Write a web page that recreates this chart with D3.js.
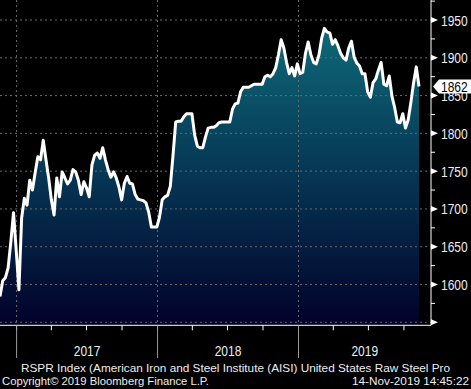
<!DOCTYPE html>
<html lang="en">
<head>
<meta charset="utf-8">
<title>RSPR Index</title>
<script src="https://d3js.org/d3.v7.min.js"></script>
<style>
    body { margin: 0; background: #000; }
    svg { display: block; background: #000; }
    .lbl { font-family: "Liberation Sans", Arial, sans-serif; }
</style>
</head>
<body>
<svg width="471" height="389"></svg>
<script>
// weekly readings, first week ending 2016-11-19
const firstWeek = "2016-11-19";
const steelValues = [
    1584, 1605, 1609, 1622, 1656, 1695, 1645, 1593, 1688, 1714,
    1705, 1738, 1725, 1748, 1769, 1765, 1791, 1765, 1741, 1712,
    1692, 1741, 1716, 1749, 1741, 1733, 1738, 1752, 1749, 1738,
    1719, 1736, 1728, 1716, 1758, 1771, 1774, 1767, 1781, 1765,
    1752, 1742, 1749, 1741, 1729, 1712, 1734, 1743, 1734, 1733,
    1719, 1713, 1712, 1711, 1708, 1696, 1676, 1676, 1676, 1689,
    1712, 1716, 1718, 1730, 1771, 1815, 1816, 1816, 1822, 1826,
    1826, 1826, 1798, 1783, 1781, 1781, 1795, 1807, 1808, 1808,
    1810, 1814, 1815, 1815, 1815, 1815, 1832, 1839, 1840, 1855,
    1861, 1861, 1861, 1863, 1865, 1865, 1865, 1865, 1875, 1877,
    1875, 1879, 1887, 1904, 1924, 1913, 1894, 1879, 1887, 1876,
    1892, 1879, 1881, 1906, 1921, 1904, 1894, 1892, 1904, 1926,
    1939, 1934, 1933, 1918, 1924, 1916, 1906, 1900, 1897, 1913,
    1922, 1901, 1893, 1889, 1879, 1879, 1855, 1848, 1867, 1872,
    1884, 1894, 1865, 1863, 1876, 1849, 1834, 1815, 1814, 1826,
    1807, 1818, 1841, 1867, 1888, 1862
];
const yearLabels = ["2017", "2018", "2019"];
const yTicks = [1550, 1600, 1650, 1700, 1750, 1800, 1850, 1900, 1950];
const titleText = "RSPR Index (American Iron and Steel Institute (AISI) United States Raw Steel Pro";
const copyText = "Copyright\u00a9 2019 Bloomberg Finance L.P.";
const stampText = "14-Nov-2019 14:45:22";

const parseDay = d3.timeParse("%Y-%m-%d");
const start = parseDay(firstWeek);
const data = steelValues.map((v, i) => ({ date: d3.timeDay.offset(start, 7 * i), value: v }));

const svg = d3.select("svg");
const axisX = 431, axisY = 325.3;

const x = d3.scaleTime()
    .domain(d3.extent(data, d => d.date))
    .range([0, 419]);
const y = d3.scaleLinear()
    .domain([1546, 1976.5])
    .range([axisY, 0]);

// Bloomberg's font is narrow, so squeeze the text to its width
function label(sel, size, len) {
    return sel.attr("class", "lbl")
        .attr("font-size", size)
        .attr("textLength", len)
        .attr("lengthAdjust", "spacingAndGlyphs");
}

// gradient fill
const grad = svg.append("defs").append("linearGradient")
    .attr("id", "fillGrad")
    .attr("gradientUnits", "userSpaceOnUse")
    .attr("x1", 0).attr("x2", 0)
    .attr("y1", y(1950)).attr("y2", axisY);
grad.append("stop").attr("offset", "0%").attr("stop-color", "#0e6c7a");
grad.append("stop").attr("offset", "45%").attr("stop-color", "#063c58");
grad.append("stop").attr("offset", "100%").attr("stop-color", "#02012a");

const area = d3.area()
    .x(d => x(d.date))
    .y0(axisY)
    .y1(d => y(d.value));
svg.append("path")
    .datum(data)
    .attr("d", area)
    .attr("fill", "url(#fillGrad)");

// grid lines
const yearStarts = yearLabels.map(t => new Date(+t, 0, 1));
svg.append("g").selectAll("line")
    .data(yTicks)
    .join("line")
    .attr("x1", 0).attr("x2", axisX)
    .attr("y1", d => y(d)).attr("y2", d => y(d))
    .attr("stroke", "#6a6a6a")
    .attr("stroke-dasharray", "2,3");
svg.append("g").selectAll("line")
    .data(yearStarts)
    .join("line")
    .attr("x1", d => x(d)).attr("x2", d => x(d))
    .attr("y1", 0).attr("y2", axisY)
    .attr("stroke", "#6a6a6a")
    .attr("stroke-dasharray", "2,3");

// the series line
const line = d3.line()
    .x(d => x(d.date))
    .y(d => y(d.value));
svg.append("path")
    .datum(data)
    .attr("d", line)
    .attr("fill", "none")
    .attr("stroke", "#fff")
    .attr("stroke-width", 3)
    .attr("stroke-linejoin", "round");

// right axis
const yAxis = svg.append("g");
yAxis.append("line")
    .attr("x1", axisX).attr("x2", axisX)
    .attr("y1", 0).attr("y2", axisY)
    .attr("stroke", "#fff");
yAxis.selectAll("path.tri")
    .data(yTicks)
    .join("path")
    .attr("class", "tri")
    .attr("d", d => `M${axisX},${y(d) - 3}L${axisX + 7},${y(d)}L${axisX},${y(d) + 3}Z`)
    .attr("fill", "#fff");
yAxis.selectAll("line.minor")
    .data(yTicks.map(v => v + 25))
    .join("line")
    .attr("class", "minor")
    .attr("x1", axisX).attr("x2", axisX + 4)
    .attr("y1", d => y(d)).attr("y2", d => y(d))
    .attr("stroke", "#fff");
yAxis.selectAll("text")
    .data(yTicks.filter(v => v > 1550))
    .join("text")
    .call(label, 15, 26.7)
    .attr("x", axisX + 10)
    .attr("y", d => y(d) + 5.5)
    .attr("fill", "#eee")
    .text(d => d);

// last value tag
const last = data[data.length - 1];
const ly = y(last.value);
svg.append("path")
    .attr("d", `M${axisX + 2},${ly}L${axisX + 8},${ly - 7}L471,${ly - 7}L471,${ly + 7}L${axisX + 8},${ly + 7}Z`)
    .attr("fill", "#fff");
svg.append("text")
    .call(label, 15, 26.7)
    .attr("x", axisX + 10)
    .attr("y", ly + 5.5)
    .attr("fill", "#000")
    .text(last.value);

// bottom axis
const xAxis = svg.append("g");
xAxis.append("line")
    .attr("x1", 0).attr("x2", axisX)
    .attr("y1", axisY).attr("y2", axisY)
    .attr("stroke", "#fff");
const quarters = d3.timeMonth.every(3).range(new Date(2017, 0, 1), new Date(2019, 11, 1));
xAxis.selectAll("line.q")
    .data(quarters)
    .join("line")
    .attr("class", "q")
    .attr("x1", d => x(d)).attr("x2", d => x(d))
    .attr("y1", axisY).attr("y2", axisY + 5)
    .attr("stroke", "#fff");
xAxis.selectAll("line.yr")
    .data(yearStarts)
    .join("line")
    .attr("class", "yr")
    .attr("x1", d => x(d)).attr("x2", d => x(d))
    .attr("y1", axisY).attr("y2", 358)
    .attr("stroke", "#9a9a9a");
const yearEdges = yearStarts.map(d => x(d)).concat([axisX]);
xAxis.selectAll("text")
    .data(yearLabels)
    .join("text")
    .call(label, 15, 26.7)
    .attr("x", (d, i) => (yearEdges[i] + yearEdges[i + 1]) / 2)
    .attr("y", 356)
    .attr("text-anchor", "middle")
    .attr("fill", "#eee")
    .text(d => d);

// footer
svg.append("text")
    .call(label, 11.5, 429)
    .attr("x", 21).attr("y", 372)
    .attr("fill", "#eee")
    .text(titleText);
svg.append("text")
    .call(label, 11.5, 207)
    .attr("x", 2).attr("y", 385)
    .attr("fill", "#eee")
    .text(copyText);
svg.append("text")
    .call(label, 11.5, 117)
    .attr("x", 352).attr("y", 385)
    .attr("fill", "#eee")
    .text(stampText);
</script>
</body>
</html>
